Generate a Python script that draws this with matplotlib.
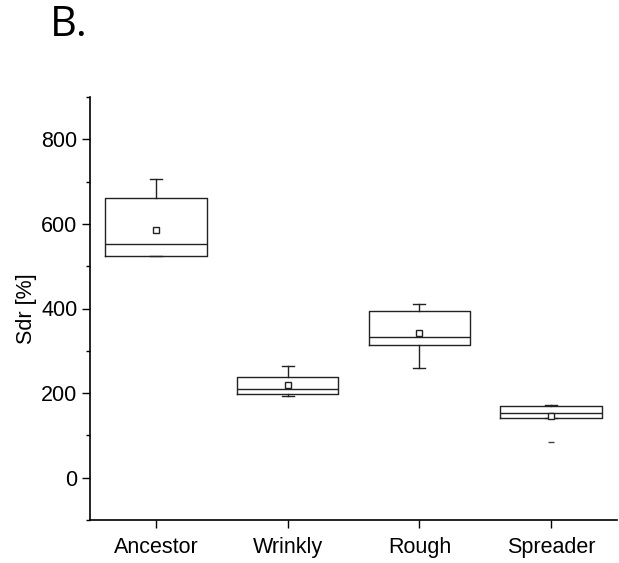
import matplotlib
matplotlib.use("Agg")
import matplotlib.pyplot as plt
from matplotlib.ticker import MultipleLocator

categories = ["Ancestor", "Wrinkly", "Rough", "Spreader"]
q1 = [525, 199, 314, 140]
median = [552, 210, 333, 153]
q3 = [662, 237, 395, 170]
whislo = [523, 193, 260, 140]
whishi = [706, 263, 411, 171]
mean = [586, 219, 341, 145]
outliers = [[], [], [], [84]]

plt.rcParams['font.family'] = ['Liberation Sans', 'DejaVu Sans']

fig = plt.figure(figsize=(6.19, 5.63), dpi=100)
ax = fig.add_axes([90/619, 43/563, 527/619, 423/563])

stats = []
for i, c in enumerate(categories):
    stats.append(dict(label=c, q1=q1[i], med=median[i], q3=q3[i],
                      whislo=whislo[i], whishi=whishi[i], mean=mean[i],
                      fliers=outliers[i]))

pos = list(range(1, len(categories) + 1))
ax.bxp(stats, positions=pos, widths=0.77, capwidths=0.09, showmeans=True,
       showfliers=True,
       boxprops=dict(color='#222222', linewidth=1.0),
       medianprops=dict(color='#222222', linewidth=1.0),
       whiskerprops=dict(color='#222222', linewidth=1.0),
       capprops=dict(color='#222222', linewidth=1.0),
       meanprops=dict(marker='s', markersize=4, markerfacecolor='white',
                      markeredgecolor='#222222', markeredgewidth=1.0),
       flierprops=dict(marker='_', markersize=5, markeredgecolor='#444444',
                       markeredgewidth=1.0))

ax.set_xlim(0.5, 4.5)
ax.set_ylim(-100, 900)
ax.yaxis.set_major_locator(MultipleLocator(200))
ax.yaxis.set_minor_locator(MultipleLocator(100))
ax.set_xticks(pos)
ax.set_xticklabels(categories)
for s in ['top', 'right']:
    ax.spines[s].set_visible(False)
for s in ['left', 'bottom']:
    ax.spines[s].set_linewidth(1.2)
ax.tick_params(axis='both', which='major', direction='out', length=6, width=1.0,
               labelsize=15.5, pad=3)
ax.tick_params(axis='y', which='minor', direction='out', length=3, width=1.0)
ax.tick_params(axis='x', which='major', pad=6)
ax.set_ylabel("Sdr [%]", fontsize=15.5, labelpad=3)

fig.text(50/619, 1 - 36/563, "B.", fontsize=30, family=['Open Sans', 'DejaVu Sans'],
         ha='left', va='baseline')

fig.savefig("out.png", dpi=100)
